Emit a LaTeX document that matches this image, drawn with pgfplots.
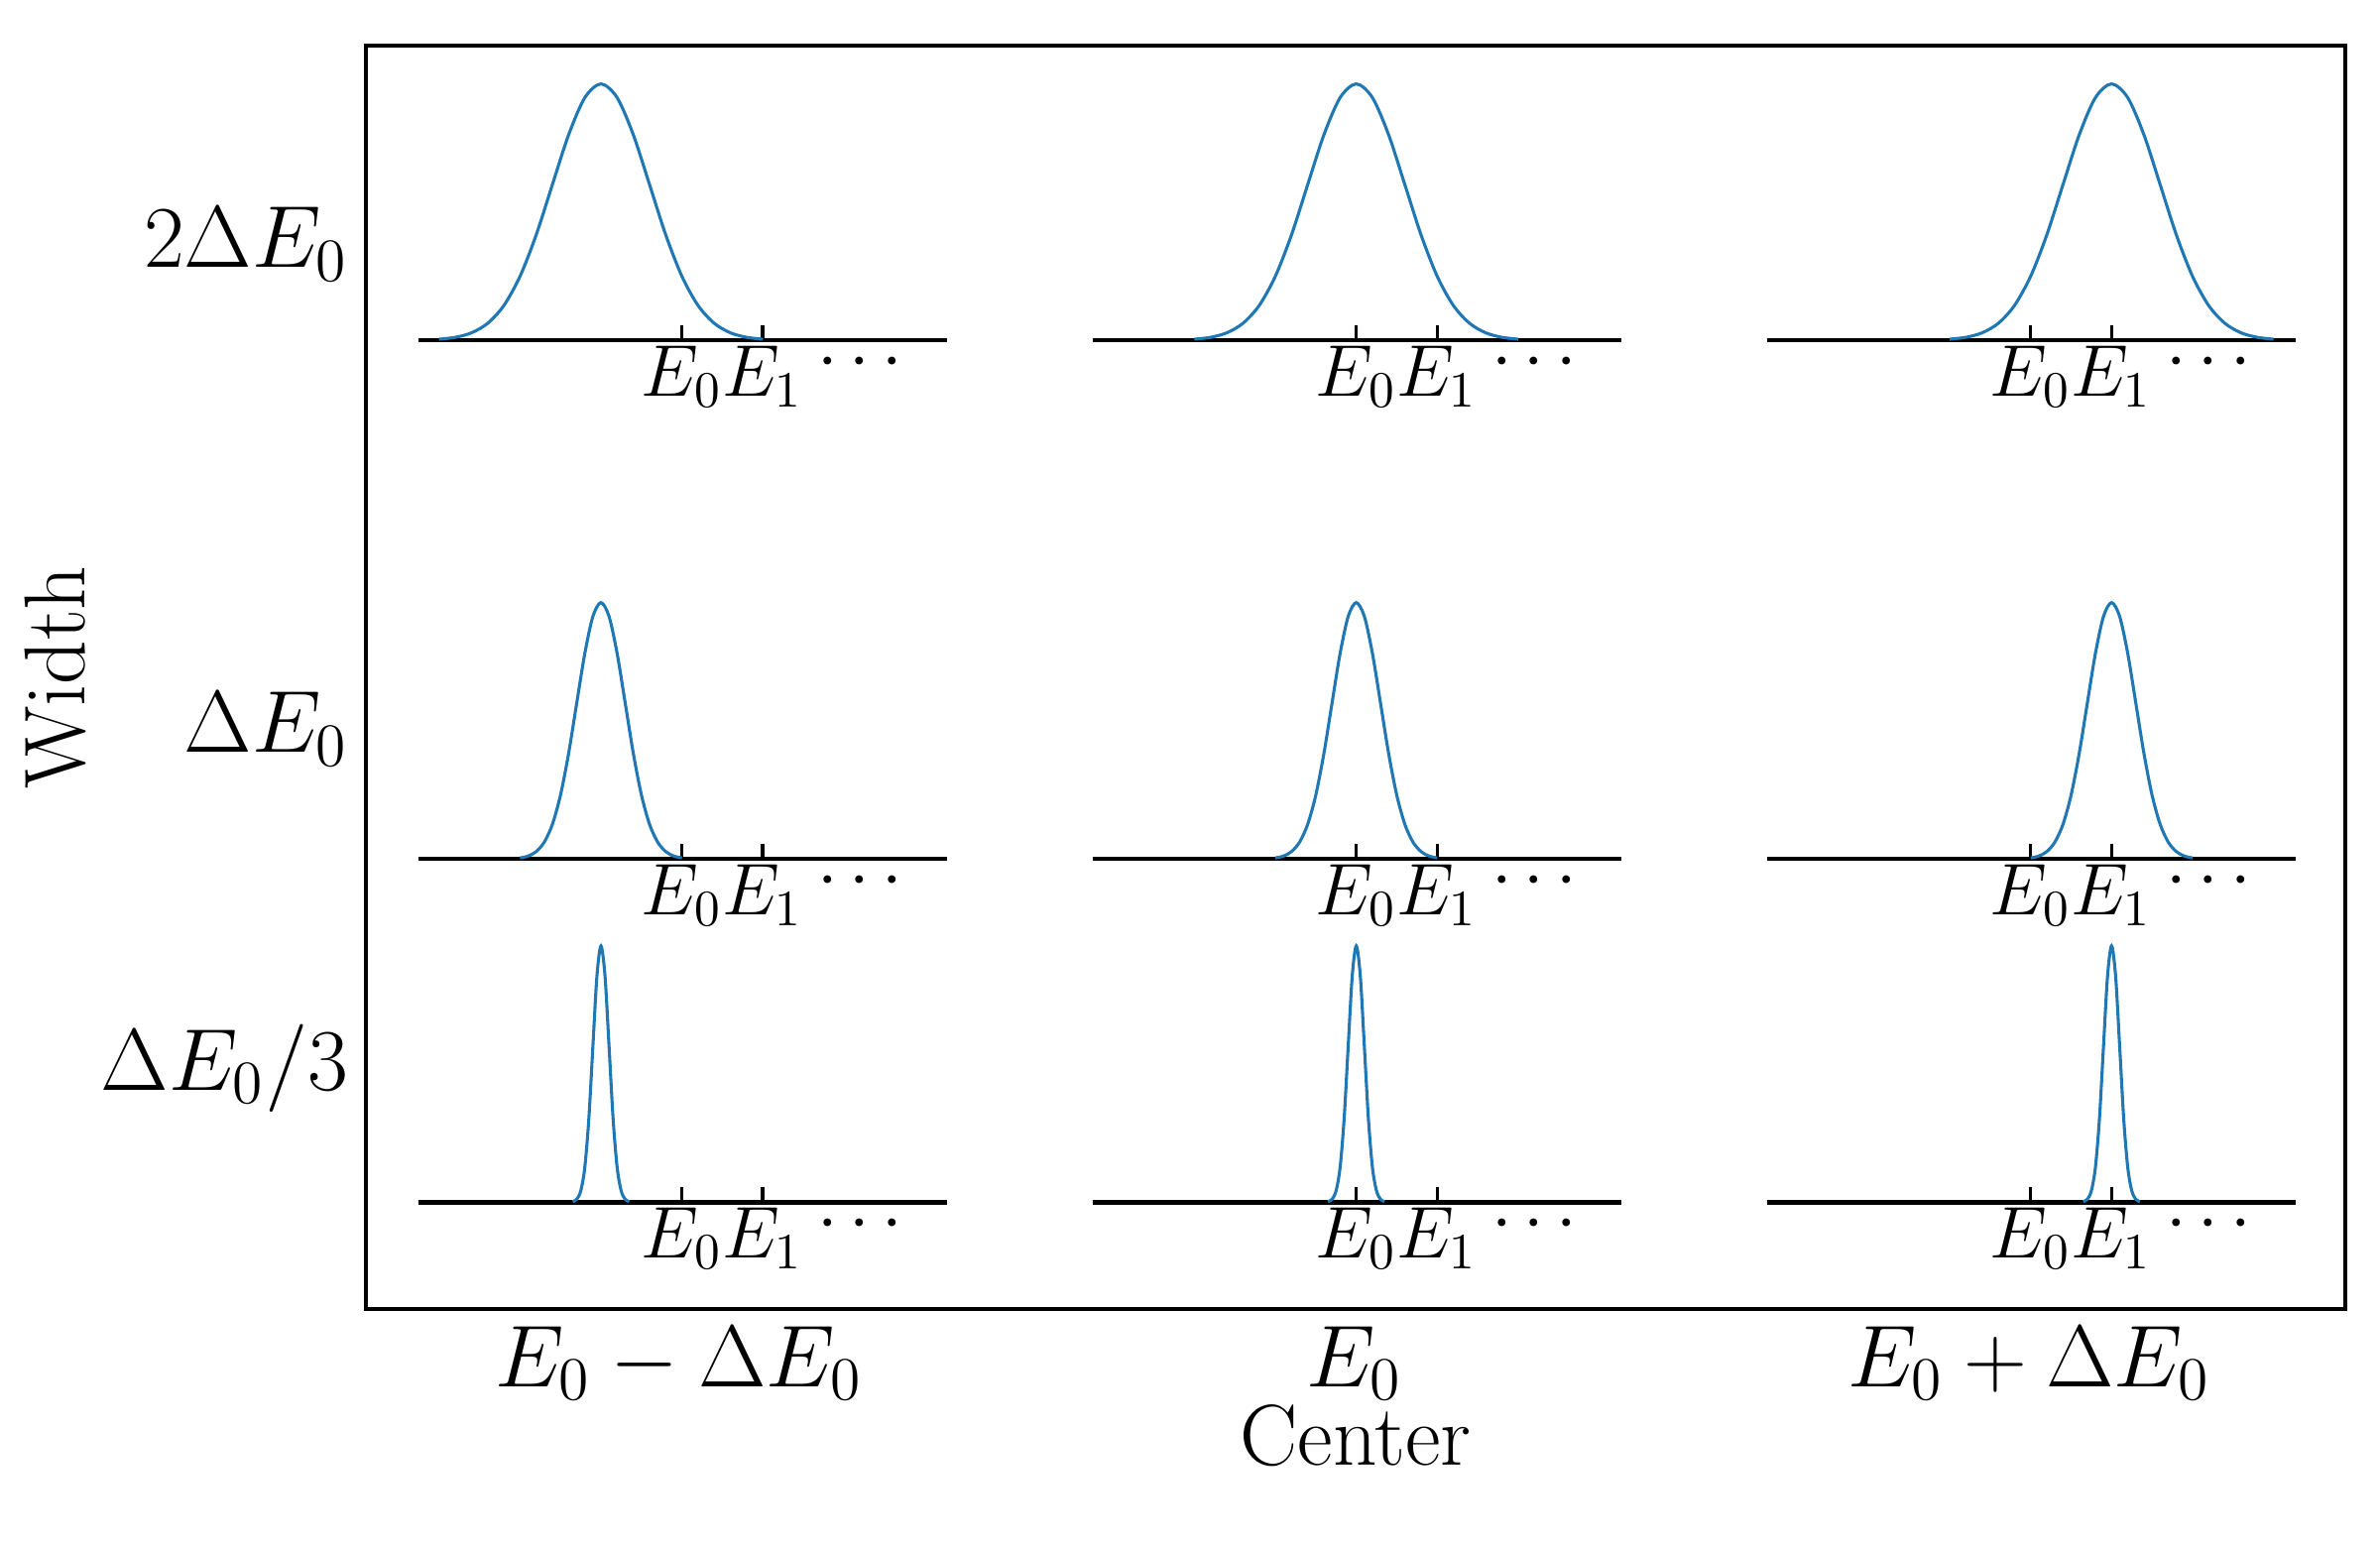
\documentclass[border=0pt]{standalone}
\usepackage{pgfplots}
\usepackage{pgfplotstable}
\pgfplotsset{compat=1.18}
\definecolor{mblue}{HTML}{1F77B4}
\pgfplotstableread{
x y
-2.0 0.0039
-1.8 0.0111
-1.6 0.0286
-1.4 0.0657
-1.2 0.135
-1.0 0.249
-0.8 0.411
-0.6 0.607
-0.4 0.801
-0.2 0.946
0 1
0.2 0.946
0.4 0.801
0.6 0.607
0.8 0.411
1.0 0.249
1.2 0.135
1.4 0.0657
1.6 0.0286
1.8 0.0111
2.0 0.0039
}\tabwide
\pgfplotstableread{
x y
-1.0 0.0039
-0.9 0.0111
-0.8 0.0286
-0.7 0.0657
-0.6 0.135
-0.5 0.249
-0.4 0.411
-0.3 0.607
-0.2 0.801
-0.1 0.946
0 1
0.1 0.946
0.2 0.801
0.3 0.607
0.4 0.411
0.5 0.249
0.6 0.135
0.7 0.0657
0.8 0.0286
0.9 0.0111
1.0 0.0039
}\tabmed
\pgfplotstableread{
x y
-0.35 0.0022
-0.3 0.0111
-0.25 0.0439
-0.2 0.135
-0.15 0.325
-0.1 0.607
-0.05 0.882
0 1
0.05 0.882
0.1 0.607
0.15 0.325
0.2 0.135
0.25 0.0439
0.3 0.0111
0.35 0.0022
}\tabnarrow
\pgfplotsset{inset/.style={
  scale only axis, anchor=south west, width=104.1pt, height=50.4pt,
  xmin=-3.26, xmax=3.28, ymin=0, ymax=1.0,
  axis x line=bottom, axis y line=none, axis line style={-, black, line width=0.9pt},
  xtick={0,1}, xticklabels={$E_0$,$E_1$}, tick align=inside,
  major tick length=3pt, tick style={black, line width=0.7pt},
  extra x ticks={2.2}, extra x tick labels={$\cdots$},
  extra x tick style={major tick length=0pt},
  ticklabel style={font=\fontsize{14}{16}\selectfont, inner sep=1pt},
  clip=false}}
\newcommand\inset[4]{%
  \begin{axis}[inset, at={(#1*0.3pt,#2*0.3pt)}]
  \addplot[mblue, line width=0.6pt, smooth] table[x expr=\thisrow{x}+#3, y=y] {#4};
  \end{axis}}
\begin{document}
\begin{tikzpicture}
\path (-72pt,-46.8pt) rectangle (396pt,257.4pt);
\begin{axis}[at={(0,0)}, anchor=south west, scale only axis,
  width=389.1pt, height=248.4pt, xmin=0, xmax=1297, ymin=0, ymax=828,
  axis line style={line width=0.8pt},
  xtick={205,648,1090}, xticklabels={$E_0-\Delta E_0$,$E_0$,$E_0+\Delta E_0$},
  ytick={158,380,698}, yticklabels={$\Delta E_0/3$,$\Delta E_0$,$2\Delta E_0$},
  major tick length=0pt,
  ticklabel style={font=\fontsize{17}{20}\selectfont},
  xlabel={Center}, ylabel={Width},
  label style={font=\fontsize{17}{20}\selectfont},
  xlabel style={yshift=6pt}, ylabel style={yshift=-4pt}]
\end{axis}
\inset{34}{635}{-1}{\tabwide}
\inset{476}{635}{0}{\tabwide}
\inset{918}{635}{1}{\tabwide}
\inset{34}{295}{-1}{\tabmed}
\inset{476}{295}{0}{\tabmed}
\inset{918}{295}{1}{\tabmed}
\inset{34}{70}{-1}{\tabnarrow}
\inset{476}{70}{0}{\tabnarrow}
\inset{918}{70}{1}{\tabnarrow}
\end{tikzpicture}
\end{document}
